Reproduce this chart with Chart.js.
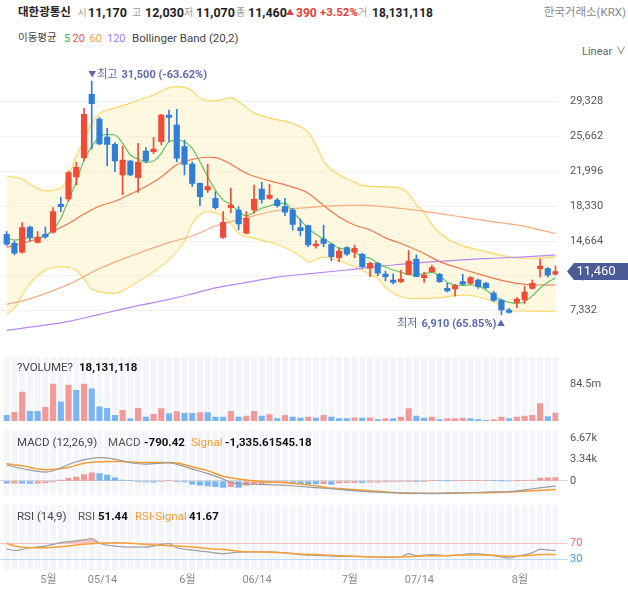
<!DOCTYPE html>
<html><head><meta charset="utf-8">
<script src="https://cdn.jsdelivr.net/npm/chart.js@4.4.1/dist/chart.umd.min.js"></script>
<style>
body{margin:0;width:628px;height:591px;overflow:hidden;background:#fff;position:relative;font-family:Roboto,"Noto Sans CJK KR",sans-serif}
canvas{position:absolute;left:0}
.t{position:absolute;white-space:nowrap;line-height:1;z-index:5}
.g{font-size:10px;color:#9a9a9a}
.n{font-size:12.5px;font-weight:700;color:#222}
.r{color:#e8403a}
.p{font-size:11.5px;color:#444}
.b{font-size:11.5px;font-weight:700;color:#111}
</style></head><body>
<canvas id="cMain" width="628" height="290" style="top:60px"></canvas>
<canvas id="cVol" width="628" height="64" style="top:357px"></canvas>
<canvas id="cMacd" width="628" height="65" style="top:430px"></canvas>
<canvas id="cRsi" width="628" height="86" style="top:505px"></canvas>

<div class="t" style="left:18px;top:6.5px;font-size:11.5px;font-weight:700;color:#222">대한광통신</div>
<div class="t g" style="left:77.5px;top:8px">시</div><div class="t n" style="left:88px;top:6.5px">11,170</div>
<div class="t g" style="left:132px;top:8px">고</div><div class="t n" style="left:145px;top:6.5px">12,030</div>
<div class="t g" style="left:184px;top:8px">저</div><div class="t n" style="left:196px;top:6.5px">11,070</div>
<div class="t g" style="left:236px;top:8px">종</div><div class="t n" style="left:248px;top:6.5px">11,460</div>
<div class="t r" style="left:286px;top:8.5px;font-size:8px">▲</div>
<div class="t n r" style="left:296px;top:6.5px;font-size:12px">390</div>
<div class="t n r" style="left:320px;top:6.5px;font-size:11.5px">+3.52%</div>
<div class="t g" style="left:358px;top:8px">거</div><div class="t n" style="left:372px;top:6.5px;font-size:12px">18,131,118</div>
<div class="t" style="right:2px;top:7px;font-size:11.5px;color:#888">한국거래소(KRX)</div>

<div class="t p" style="left:18px;top:33px;font-size:10.5px">이동평균</div>
<div class="t" style="left:64px;top:32.8px;font-size:11px;color:#4caf50">5</div>
<div class="t" style="left:72.5px;top:32.8px;font-size:11px;color:#ef5350">20</div>
<div class="t" style="left:89.5px;top:32.8px;font-size:11px;color:#f5a35a">60</div>
<div class="t" style="left:107px;top:32.8px;font-size:11px;color:#a47ee8">120</div>
<div class="t p" style="left:132px;top:32.5px;font-size:11.5px">Bollinger Band (20,2)</div>
<div class="t" style="left:582px;top:46px;font-size:11px;color:#666">Linear</div>
<div class="t" style="left:616px;top:46px;font-size:10px;color:#666">∨</div>

<div class="t p" style="left:17px;top:361.5px">?VOLUME?</div>
<div class="t b" style="left:79px;top:361.5px">18,131,118</div>

<div class="t p" style="left:17px;top:437px">MACD (12,26,9)</div>
<div class="t p" style="left:108px;top:437px;color:#555">MACD</div>
<div class="t b" style="left:144px;top:437px">-790.42</div>
<div class="t p" style="left:191px;top:437px;color:#f39c35">Signal</div>
<div class="t b" style="left:225px;top:437px">-1,335.61545.18</div>

<div class="t p" style="left:17px;top:511px">RSI (14,9)</div>
<div class="t p" style="left:78px;top:511px;color:#555">RSI</div>
<div class="t b" style="left:98px;top:511px">51.44</div>
<div class="t p" style="left:135px;top:511px;color:#f39c35">RSI-Signal</div>
<div class="t b" style="left:189px;top:511px">41.67</div>

<script>
// ---------------- DATA ----------------
const openP  = [15373,14426,13479,16139,14530,15373,15584,18524,19088,21403,23434,30107,27507,25613,24845,21615,23088,21330,24140,24070,25121,27928,26876,24596,22772,20738,20035,19158,15057,18173,17927,15479,17927,20141,19158,18983,18278,17927,16068,16279,14142,14878,14321,12911,13963,13479,13269,11797,12322,11194,10563,10388,11160,12773,10807,11440,11160,9690,9617,10388,10216,10563,10216,9196,8458,7406,8212,8458,9690,11755,11755,11170];
const highP  = [15650,14668,16595,16250,15647,16139,18173,19299,22035,22950,28633,31500,27650,26529,25020,24666,23150,24950,24490,25580,28000,28455,28528,25297,23000,20800,22740,19860,17752,20212,18280,17752,20562,20843,20632,19150,19158,18100,16980,16350,14700,16350,14400,13970,14070,14247,13370,12430,12430,11510,11200,11616,13648,13200,11370,12140,11270,10210,10100,11150,10912,10668,10320,9370,8560,7580,8700,9900,10563,12773,11860,12030];
const lowP   = [14170,13195,13400,14668,14450,14951,15500,17752,18878,20562,23088,24350,24770,22593,21961,19509,21550,19793,22900,23860,24771,25121,23014,21615,20385,18384,19793,18030,14950,17647,15830,15400,17580,18636,19050,18240,17330,15830,15190,14060,13900,14060,12563,12490,13160,12911,11800,10912,10980,10458,10140,10280,11090,10912,10320,11370,10320,9300,8860,10040,10110,9690,9620,8320,6910,7060,7650,8050,9600,10878,10850,11070];
const closeP = [14321,13374,16068,15057,15091,15091,17752,18278,21857,22421,28002,29118,24876,24845,23088,23193,21615,22950,23088,24350,27928,27686,23372,22740,20738,19333,20385,18173,16636,18457,16457,17057,19053,19053,19509,18384,17689,16425,15752,14247,14352,14426,13016,13616,13269,13900,11964,12322,11270,10912,10321,10668,12563,10912,11089,11859,10388,9407,9963,10112,10807,9858,9753,8423,7406,7160,8563,9301,10216,12036,11070,11460];

const ma5 = [15000,14773,14880,15015,14950,15195,15830,17057,18983,20910,23193,24592,25645,25897,25824,24950,23718,23298,22950,23088,23900,25121,25297,25121,24424,23014,21435,20035,18983,18530,17752,17330,17690,18110,18350,18636,18636,17752,16878,16004,15373,14878,14426,13900,13826,13479,13016,12848,12321,11963,11616,11374,11164,11090,11227,11374,11017,10321,10037,9990,10037,9932,9511,8912,8458,8217,8112,8280,8912,9690,10321,10806];
const ma20Idx = [0,2,4,6,8,10,12,14,16,18,20,22,24,26,27,29,31,34,36,39,41,43,45,47,49,51,54,56,59,61,64,66,68,71];
const ma20    = [13990,14430,14900,15720,16500,17500,18350,18850,19600,20400,21400,22700,23250,23480,23450,22750,21800,21000,20580,19700,18400,17200,16350,15826,15000,14400,13350,12500,11700,11200,10520,10216,10037,10037];
const ma60Idx = [0,3,8,12,16,21,24,27,31,35,39,42,46,50,54,59,63,67,71];
const ma60    = [8000,8580,10100,11760,13080,14500,15200,16250,17120,17880,18190,18370,18450,18173,17780,17180,16680,16210,15430];
const ma120Idx = [0,3,8,12,16,21,24,27,31,35,40,44,50,54,59,63,67,71];
const ma120    = [5260,5600,6200,6940,7690,8520,9110,9740,10321,10870,11290,11616,12142,12410,12690,12850,13000,13210];
const bbUpIdx = [0,2,3,5,7,8,9,10,11,12,14,16,17,19,21,22,24,25,27,29,30,32,34,37,39,40,41,42,45,46,48,51,52,53,54,55,57,59,61,64,66,68,71];
const bbUp    = [21500,21200,20650,19950,20250,21450,23600,25300,27100,28050,28680,29150,29480,30033,30800,30907,30500,29686,29400,29749,29328,28150,27600,27050,26100,24800,23100,22200,20850,20500,20400,20200,19600,18500,17700,16400,14900,14150,13750,13150,12900,12850,13016];
const bbLowIdx = [0,1,2,3,5,7,8,9,10,11,14,16,18,21,23,24,26,27,29,30,32,35,38,39,41,43,46,47,48,49,51,53,56,59,61,63,65,66,71];
const bbLow    = [7000,7600,9000,10200,11600,11963,11900,11600,10700,9600,9170,9900,10900,12700,14700,16500,17750,17650,16500,15480,14950,14300,13100,12450,13000,12560,11600,11100,10750,9800,8800,8600,8700,9000,8800,8280,7350,7300,7230];

const priceTicks = [7332,10998,14664,18330,21996,25662,29328];
const hiLabel = ['최고', '31,500 (-63.62%)'];
const loLabel = ['최저', '6,910 (65.85%)'];

const volM = [13.1,20.0,66.1,22.3,22.0,31.5,84.5,43.8,82.2,69.9,84.4,73.7,32.3,29.2,13.1,24.6,5.4,29.2,9.2,15.4,28.4,16.9,21.5,17.7,17.5,19.2,19.0,9.2,9.0,22.3,9.2,11.5,22.3,11.5,14.6,5.4,13.1,9.2,6.9,9.2,6.9,13.1,9.2,5.4,5.3,7.0,6.8,7.0,3.3,5.4,5.3,9.2,28.4,11.5,6.9,9.2,3.2,5.4,5.5,6.9,5.4,3.1,1.5,3.2,9.2,5.4,9.2,11.5,13.1,40.0,10.0,18.13];
const volTicks = [84.5];
const volTickLabels = ['84.5m'];

const macdIdx = [0,2,5,9,12,14,16,18,21,22,25,28,29,32,36,38,42,46,51,55,59,62,65,68,71];
const macd    = [2500,1950,1400,3000,3640,3420,2850,2626,2880,2600,1515,300,-250,-505,-660,-860,-1212,-1616,-1870,-1970,-1870,-1717,-1640,-1212,-790.42];
const sigIdx  = [0,2,5,8,10,13,15,17,20,22,23,26,28,31,34,35,39,42,47,51,55,59,62,65,68,71];
const sig     = [2700,2373,1770,2120,2780,3030,3030,2880,2880,2830,2525,1616,750,151,-150,-200,-606,-1111,-1515,-1870,-1920,-1818,-1818,-1717,-1515,-1335.6];
const hist = [-350,-320,-340,-360,-330,-300,-150,150,400,600,1010,1260,1160,910,505,150,40,-100,-150,-200,-60,40,-100,-150,-500,-650,-760,-900,-1010,-900,-1010,-650,-500,-400,-300,-250,-230,-300,-400,-450,-460,-430,-550,-300,-280,-250,-260,-200,-180,-150,-120,-100,-20,-30,-10,50,40,30,40,50,60,100,110,50,10,0,20,50,150,450,480,545.2];
const macdTicks = [0,3340,6670];
const macdTickLabels = ['0','3.34k','6.67k'];

const rsiIdx = [0,1,3,5,7,10,11,12,14,16,18,20,21,22,24,26,28,30,32,34,36,38,41,43,45,47,49,51,52,53,55,57,59,60,62,64,65,66,68,69,71];
const rsi    = [56,51.7,58.7,63,71.7,78.7,82.2,70,63,60.4,60.4,67.4,69,58.7,52.6,48.2,43.9,47.3,48.2,48.2,45.6,41.2,38.6,36.9,36.9,35.1,34.3,35.1,43.9,38.6,41.2,38.6,41.2,43.9,41.2,35.1,32.5,36.9,45.6,54.3,51.44];
const rsiSigIdx = [0,1,3,5,7,10,12,14,16,18,20,22,24,26,28,30,32,34,36,38,41,43,45,47,49,51,53,55,57,59,61,63,65,67,69,71];
const rsiSig    = [70,63,58.7,58.7,61.3,67.4,70,71.7,70,67.4,64.8,63,60.4,56.9,54.3,50,48.2,47.3,45.6,43,40.4,38.6,36.9,35.1,35.1,35.1,36.9,38.6,38.6,40.4,40.4,39.5,36.9,38.6,41.2,41.67];
const rsiTicks = [30,70];

const dateIdx = [5,12,23,32,44,53,66];
const dateLabels = ['5월','05/14','6월','06/14','7월','07/14','8월'];

// ---------------- SETUP ----------------
const F = 'Roboto, "Noto Sans CJK KR", sans-serif';
Chart.defaults.font.family = F;
const N = closeP.length;
const XMIN = -0.867, XMAX = 71.36, AXW = 69.7;
const UP = '#ef4b36', DN = '#2f7fd8', VUP = '#f29a9a', VDN = '#7ab5f3';

const pts = (idx, vals) => idx.map((x, k) => ({x, y: vals[k]}));
const seq = vals => vals.map((y, i) => ({x: i, y}));
const xAxis = () => ({type: 'linear', min: XMIN, max: XMAX, display: false, offset: false});
const fitY = s => { s.width = AXW; s.paddingTop = 0; s.paddingBottom = 0; };
const lineDs = (data, color, w, extra) => Object.assign({type: 'line', data, borderColor: color, borderWidth: w, pointRadius: 0, fill: false, cubicInterpolationMode: 'monotone', order: 2}, extra || {});
const common = {responsive: false, maintainAspectRatio: false, animation: false, events: [], layout: {padding: 0},
  plugins: {legend: {display: false}, tooltip: {enabled: false}}};

const stripes = {id: 'stripes', beforeDraw(c) {
  const {ctx, chartArea: a, scales: {x}} = c;
  ctx.save(); ctx.fillStyle = '#f3f5f9';
  for (let i = 0; i < N; i++) {
    const l = Math.max(x.getPixelForValue(i - 0.5) + 1, a.left);
    const r = Math.min(x.getPixelForValue(i + 0.5) - 1, a.right);
    if (r > l) ctx.fillRect(l, a.top, r - l, a.bottom - a.top);
  }
  ctx.restore();
}};

// ---------------- MAIN ----------------
const candleColors = closeP.map((c, i) => c >= openP[i] ? UP : DN);
const annot = {id: 'annot', afterDraw(c) {
  const {ctx, scales: {x, y}} = c;
  let hi = 0, lo = 0;
  for (let i = 1; i < N; i++) { if (highP[i] > highP[hi]) hi = i; if (lowP[i] < lowP[lo]) lo = i; }
  ctx.save();
  ctx.textBaseline = 'middle';
  ctx.fillStyle = '#5b6bab';
  let cx = x.getPixelForValue(hi), cy = y.getPixelForValue(highP[hi]) - 6.3;
  ctx.textAlign = 'left';
  ctx.font = '8px ' + F; ctx.fillText('▼', cx - 3.5, cy);
  ctx.font = '11px ' + F; let tx = cx + 5.5; ctx.fillText(hiLabel[0], tx, cy);
  tx += ctx.measureText(hiLabel[0]).width + 4;
  ctx.font = 'bold 11px ' + F; ctx.fillText(hiLabel[1], tx, cy);
  cx = x.getPixelForValue(lo); cy = y.getPixelForValue(lowP[lo]) + 9.5;
  ctx.textAlign = 'right';
  ctx.font = '8px ' + F; ctx.fillText('▲', cx + 3.5, cy);
  ctx.font = 'bold 11px ' + F; tx = cx - 5; ctx.fillText(loLabel[1], tx, cy);
  tx -= ctx.measureText(loLabel[1]).width + 4;
  ctx.font = '11px ' + F; ctx.fillText(loLabel[0], tx, cy);
  const by = y.getPixelForValue(closeP[N - 1]);
  ctx.fillStyle = '#4a5b96';
  ctx.beginPath(); ctx.moveTo(567, by); ctx.lineTo(574, by - 8.5); ctx.lineTo(628, by - 8.5); ctx.lineTo(628, by + 8.5); ctx.lineTo(574, by + 8.5); ctx.closePath(); ctx.fill();
  ctx.fillStyle = '#fff'; ctx.textAlign = 'center'; ctx.font = '13px ' + F;
  ctx.fillText(closeP[N - 1].toLocaleString('en-US'), 596, by + 0.5);
  ctx.restore();
}};

new Chart(document.getElementById('cMain'), {
  type: 'line',
  data: {datasets: [
    {type: 'bar', data: closeP.map((c, i) => ({x: i, y: [lowP[i], highP[i]]})), backgroundColor: candleColors, barThickness: 1, grouped: false, order: 1},
    {type: 'bar', data: closeP.map((c, i) => ({x: i, y: [openP[i], c]})), backgroundColor: candleColors, barThickness: 5.5, grouped: false, order: 0},
    lineDs(seq(ma5), '#62c462', 1.2),
    lineDs(pts(ma20Idx, ma20), '#f07850', 1.2),
    lineDs(pts(ma60Idx, ma60), '#f6ad80', 1.2),
    lineDs(pts(ma120Idx, ma120), '#b985f2', 1.2),
    lineDs(pts(bbUpIdx, bbUp), '#fdd663', 1.2, {fill: '+1', backgroundColor: 'rgba(255,234,165,0.35)', order: 3}),
    lineDs(pts(bbLowIdx, bbLow), '#fdd663', 1.2, {order: 3})
  ]},
  options: Object.assign({}, common, {scales: {
    x: xAxis(),
    y: {position: 'right', min: 3196, max: 33717, afterFit: fitY,
      afterBuildTicks: s => { s.ticks = priceTicks.map(v => ({value: v})); },
      grid: {color: '#f0f0f0', drawTicks: false}, border: {display: false},
      ticks: {padding: 11.7, color: '#555', font: {size: 11}, callback: v => v.toLocaleString('en-US')}}
  }}),
  plugins: [annot]
});

// ---------------- VOLUME ----------------
new Chart(document.getElementById('cVol'), {
  type: 'bar',
  data: {datasets: [{data: seq(volM), backgroundColor: volM.map((v, i) => i > 0 && v > volM[i - 1] ? VUP : VDN), barThickness: 5.5}]},
  options: Object.assign({}, common, {scales: {
    x: xAxis(),
    y: {position: 'right', min: 0, max: 146.2, afterFit: fitY,
      afterBuildTicks: s => { s.ticks = volTicks.map(v => ({value: v})); },
      grid: {display: false, drawTicks: false}, border: {display: false},
      ticks: {padding: 11.7, color: '#555', font: {size: 11}, callback: (v, i) => volTickLabels[i]}}
  }}),
  plugins: [stripes]
});

// ---------------- MACD ----------------
new Chart(document.getElementById('cMacd'), {
  type: 'bar',
  data: {datasets: [
    {type: 'bar', data: seq(hist), backgroundColor: hist.map((v, i) => i > 0 && v > hist[i - 1] ? VUP : VDN), barThickness: 5.5, order: 2},
    lineDs(pts(macdIdx, macd), '#9a9a9a', 1.2, {order: 0}),
    lineDs(pts(sigIdx, sig), '#f39c35', 1.5, {order: 1})
  ]},
  options: Object.assign({}, common, {scales: {
    x: xAxis(),
    y: {position: 'right', min: -2187, max: 7966, afterFit: fitY,
      afterBuildTicks: s => { s.ticks = macdTicks.map(v => ({value: v})); },
      grid: {color: c => c.tick && c.tick.value === 0 ? '#d4d4d4' : 'rgba(0,0,0,0)', drawTicks: true, tickLength: 9},
      border: {display: false},
      ticks: {padding: 2.7, color: '#555', font: {size: 11}, callback: (v, i) => macdTickLabels[i]}}
  }}),
  plugins: [stripes]
});

// ---------------- RSI ----------------
new Chart(document.getElementById('cRsi'), {
  type: 'line',
  data: {datasets: [
    lineDs(pts(rsiIdx, rsi), '#9e9e9e', 1.2, {order: 1, fill: {target: {value: 70}, above: 'rgba(244,150,150,0.55)', below: 'rgba(0,0,0,0)'}}),
    lineDs(pts(rsiSigIdx, rsiSig), '#f5a13a', 1.5, {order: 0})
  ]},
  options: Object.assign({}, common, {scales: {
    x: {type: 'linear', min: XMIN, max: XMAX, offset: false,
      afterBuildTicks: s => { s.ticks = dateIdx.map(v => ({value: v})); },
      afterFit: s => { s.height = 21; s.paddingLeft = 0; s.paddingRight = 0; },
      grid: {display: false, drawTicks: false}, border: {display: false},
      ticks: {padding: 4, labelOffset: 3, color: '#888', font: {size: 11}, maxRotation: 0, autoSkip: false, callback: (v, i) => dateLabels[i]}},
    y: {position: 'right', min: 2, max: 167.6, afterFit: fitY,
      afterBuildTicks: s => { s.ticks = rsiTicks.map(v => ({value: v})); },
      grid: {color: c => c.tick && c.tick.value === 70 ? '#f7c4c4' : '#b8daf5', drawTicks: true, tickLength: 9},
      border: {display: false},
      ticks: {padding: 2.7, font: {size: 11}, color: c => c.tick && c.tick.value === 70 ? '#ee6a6a' : '#3d9be9'}}
  }}),
  plugins: [stripes]
});
</script>
</body></html>
